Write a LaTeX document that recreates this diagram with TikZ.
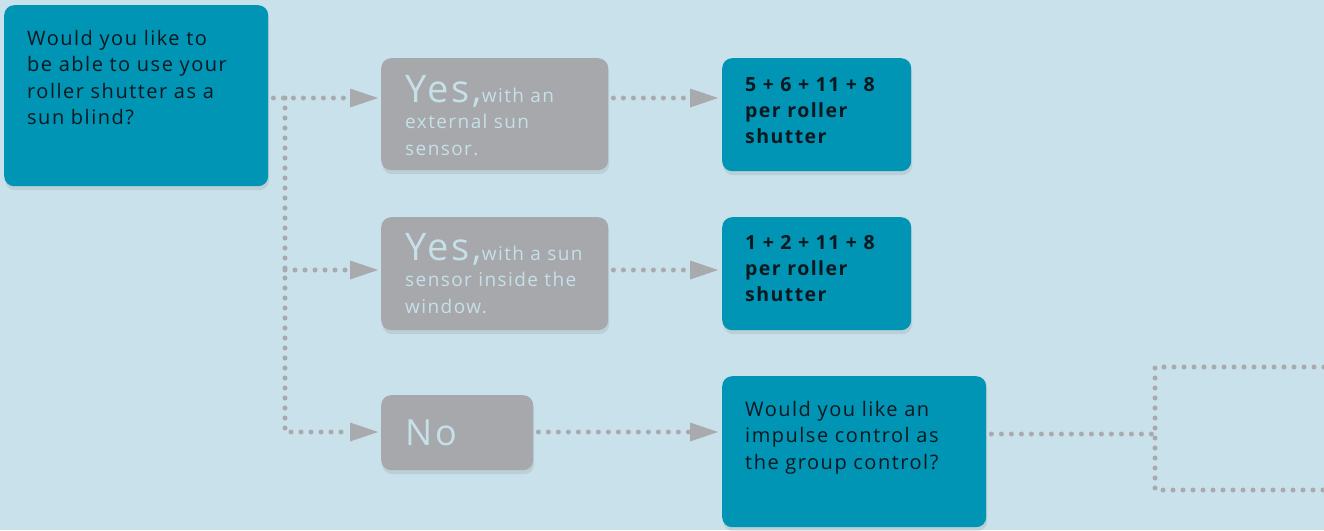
\documentclass[tikz,border=0pt]{standalone}
\usepackage{fontspec}
\setmainfont{Open Sans}[LetterSpace=7.5]
\usetikzlibrary{calc,positioning,shadows,arrows.meta}

\definecolor{bgblue}{HTML}{C8E1EA}
\definecolor{boxteal}{HTML}{0095B4}
\definecolor{boxgray}{HTML}{A7A8AB}
\definecolor{yestext}{HTML}{C6E0EA}
\definecolor{dotgray}{HTML}{A9AAAE}
\definecolor{darktext}{HTML}{0B1820}

\tikzset{
  box/.style={anchor=north west, rounded corners=10pt,
    drop shadow={shadow xshift=1pt, shadow yshift=-4pt, opacity=0.18}},
  tealbox/.style={box, fill=boxteal},
  graybox/.style={box, fill=boxgray},
  txt/.style={anchor=base west, align=left, font=\fontsize{20}{26.5}\selectfont},
  qtext/.style={txt, text=darktext},
  ytext/.style={txt, text=yestext},
  conn/.style={draw=dotgray, line width=5pt, dash pattern=on 0pt off 10pt, line cap=round},
  arrowtip/.style={-{Triangle[length=28pt, width=19pt, line width=0pt, fill=dotgray]}}
}
\newcommand{\bigyes}{{\fontsize{38}{38}\selectfont Yes,}}

\begin{document}
\begin{tikzpicture}[x=1pt,y=-1pt,inner sep=0pt]
\useasboundingbox[fill=bgblue] (0,0) rectangle (1324,530);

\coordinate (split) at (285,98); %rozgalezienie
\coordinate (row2) at (285,270); %drugi rzad
\coordinate (row3) at (285,432); %trzeci rzad
\coordinate (fork) at (1155,434); %prawe rozgalezienie
\coordinate (up) at (1155,367);
\coordinate (down) at (1155,490);
\coordinate (upend) at (1324,367); %do krawedzi
\coordinate (downend) at (1324,490);

% boxes
\node[tealbox, minimum width=264, minimum height=181] (q1) at (4,5) {};
\node[graybox, minimum width=227, minimum height=112] (y1) at (381,58) {};
\node[graybox, minimum width=227, minimum height=113] (y2) at (381,217) {};
\node[graybox, minimum width=152, minimum height=75] (no) at (381,395) {};
\node[tealbox, minimum width=189, minimum height=113] (r1) at (722,58) {};
\node[tealbox, minimum width=189, minimum height=113] (r2) at (722,217) {};
\node[tealbox, minimum width=264, minimum height=151] (q2) at (722,376) {};

% texts
\node[qtext, text width=235] (q1 text) at ($(q1.north west)+(23,40)$)
  {Would you like to\\be able to use your\\roller shutter as a\\sun blind?};
\node[ytext, text width=200, font=\fontsize{19}{26.5}\selectfont] (y1 text) at ($(y1.north west)+(24,44)$)
  {\bigyes with an\\external sun\\sensor.};
\node[ytext, text width=200, font=\fontsize{19}{26.5}\selectfont] (y2 text) at ($(y2.north west)+(24,43)$)
  {\bigyes with a sun\\sensor inside the\\window.};
\node[ytext, text width=120, font=\fontsize{36}{36}\selectfont] (no text) at ($(no.north west)+(24,50)$) {No};
\node[qtext, text width=180, font=\fontsize{19.5}{26}\bfseries] (r1 text) at ($(r1.north west)+(23,33)$)
  {5 + 6 + 11 + 8\\per roller\\shutter};
\node[qtext, text width=180, font=\fontsize{19.5}{26}\bfseries] (r2 text) at ($(r2.north west)+(23,32)$)
  {1 + 2 + 11 + 8\\per roller\\shutter};
\node[qtext, text width=235] (q2 text) at ($(q2.north west)+(23,40)$)
  {Would you like an\\impulse control as\\the group control?};

% connectors
\draw[conn, arrowtip, shorten <=5pt, shorten >=3pt] (q1.east |- split) -- (y1.west |- split);
\draw[conn, arrowtip, shorten >=3pt] (split) -- (row3) -- (no.west |- row3);
\draw[conn, arrowtip, shorten >=3pt] (row2) -- (y2.west |- row2);
\draw[conn, arrowtip, shorten <=5pt, shorten >=4pt] (y1.east |- split) -- (r1.west |- split);
\draw[conn, arrowtip, shorten <=5pt, shorten >=4pt] (y2.east |- row2) -- (r2.west |- row2);
\draw[conn, arrowtip, shorten <=5pt, shorten >=4pt] (no.east |- row3) -- (q2.west |- row3);
\draw[conn, shorten <=5pt] (q2.east |- fork) -- (fork);
\draw[conn] (upend) -- (up) -- (down) -- (downend);
\end{tikzpicture}
\end{document}
